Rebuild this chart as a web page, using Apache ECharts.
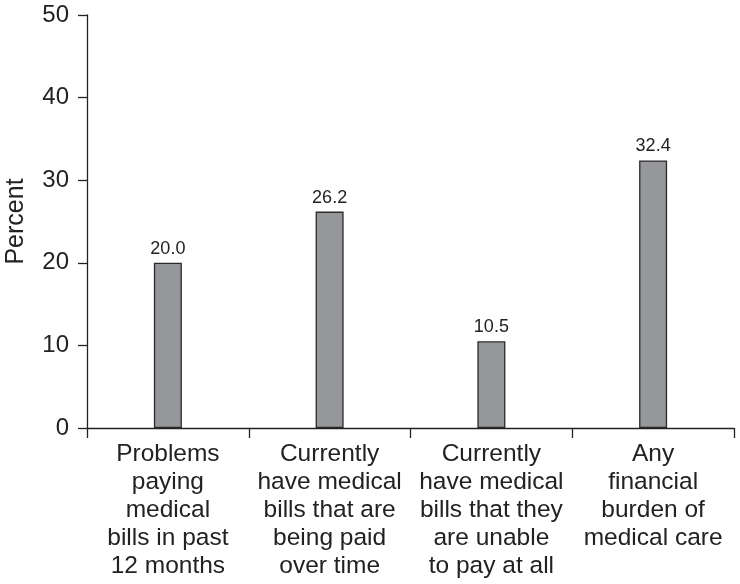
<!DOCTYPE html>
<html><head><meta charset="utf-8">
<script src="https://cdn.jsdelivr.net/npm/echarts@6/dist/echarts.min.js"></script>
<style>html,body{margin:0;padding:0;background:#fff}#c{width:740px;height:584px}</style>
</head><body><div id="c"></div>
<script>
const categories = [
  "Problems\npaying\nmedical\nbills in past\n12 months",
  "Currently\nhave medical\nbills that are\nbeing paid\nover time",
  "Currently\nhave medical\nbills that they\nare unable\nto pay at all",
  "Any\nfinancial\nburden of\nmedical care"
];
const values = [20.0, 26.2, 10.5, 32.4];
const yTicks = [0, 10, 20, 30, 40, 50];

const chart = echarts.init(document.getElementById('c'), null, {renderer: 'canvas'});
const font = 'Liberation Sans, Arial, sans-serif';
chart.setOption({
  animation: false,
  grid: {left: 87, right: 6, top: 15, bottom: 156, containLabel: false, outerBoundsMode: 'none'},
  xAxis: {
    type: 'category',
    data: categories,
    boundaryGap: true,
    axisLine: {lineStyle: {color: '#222', width: 1.3}},
    axisTick: {show: true, length: 10, interval: 0, lineStyle: {color: '#222', width: 1.3}},
    axisLabel: {interval: 0, color: '#222', fontSize: 24.5, fontFamily: font, lineHeight: 28, margin: 12, align: 'center'}
  },
  yAxis: {
    type: 'value',
    min: yTicks[0], max: yTicks[yTicks.length - 1], interval: 10,
    name: 'Percent',
    nameLocation: 'middle',
    nameGap: 58,
    nameTextStyle: {color: '#222', fontSize: 25, fontFamily: font},
    axisLine: {show: true, lineStyle: {color: '#222', width: 1.3}},
    axisTick: {show: true, length: 9, lineStyle: {color: '#222', width: 1.3}},
    axisLabel: {color: '#222', fontSize: 24, fontFamily: font, margin: 18},
    splitLine: {show: false}
  },
  series: [{
    type: 'bar',
    data: values,
    barWidth: 28,
    itemStyle: {color: '#96979b', borderColor: '#2a2a2a', borderWidth: 1.3},
    label: {show: true, position: 'top', distance: 5, color: '#222', fontSize: 18, fontFamily: font,
      formatter: p => p.value.toFixed(1)}
  }]
});
</script></body></html>
